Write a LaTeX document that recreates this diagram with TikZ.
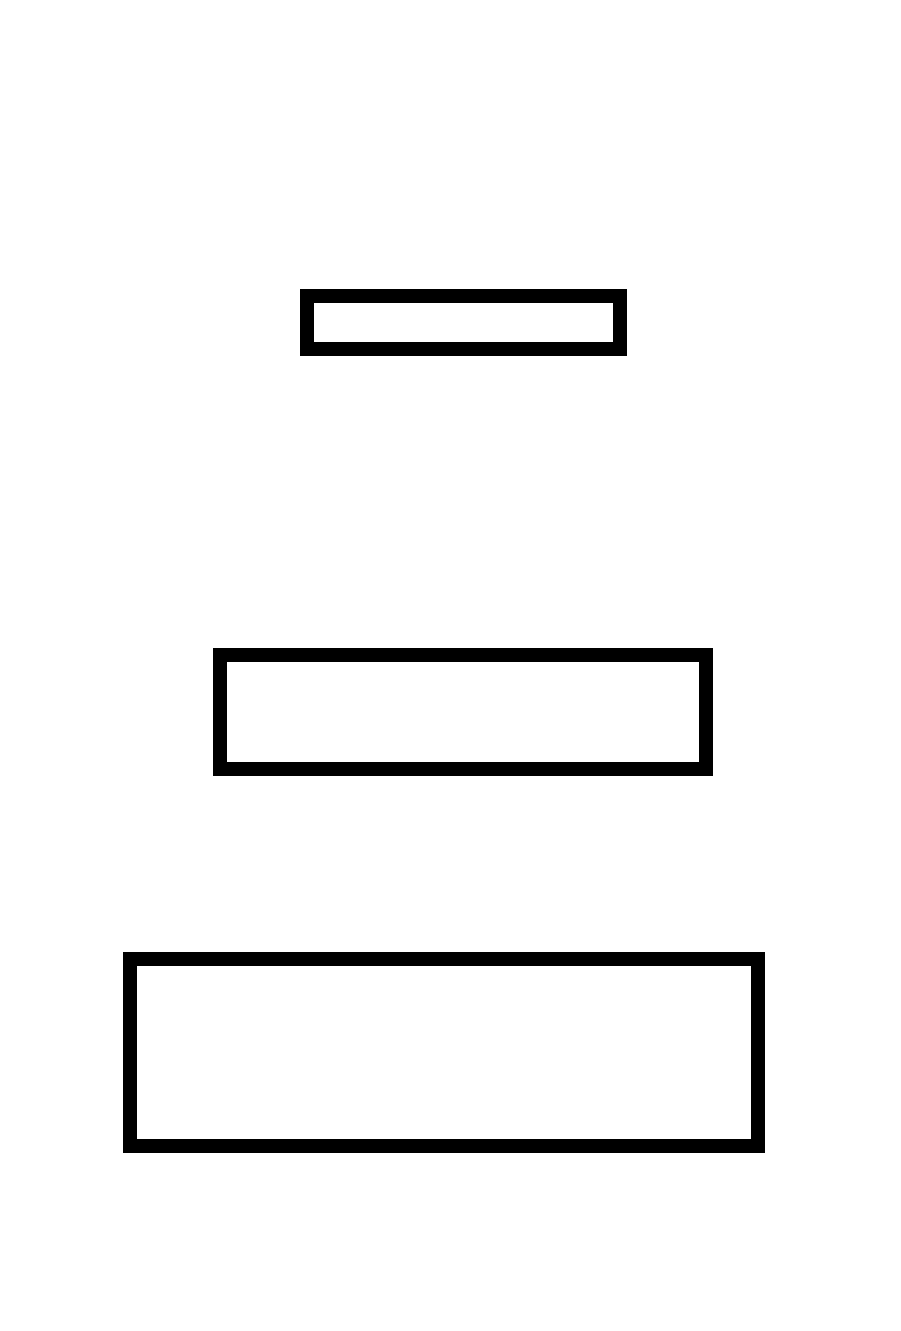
\documentclass[tikz,border=0pt]{standalone}
\usepackage{xcolor}
\usepackage{tikz}

\begin{document}
\begin{tikzpicture}[scale=1,
  frame/.style={draw=black, line width=0.28cm, inner sep=0pt, fill=white}]
\useasboundingbox[fill=white] (0,0) rectangle (18,26.62);

% Boxes
\node[frame, minimum width=6.25cm, minimum height=1.06cm] (topbox) at (9.265,20.16) {};
\node[frame, minimum width=9.72cm, minimum height=2.29cm] (midbox) at (9.25,12.375) {};
\node[frame, minimum width=12.56cm, minimum height=3.75cm] (lowbox) at (8.87,5.565) {};
\end{tikzpicture}
\end{document}
